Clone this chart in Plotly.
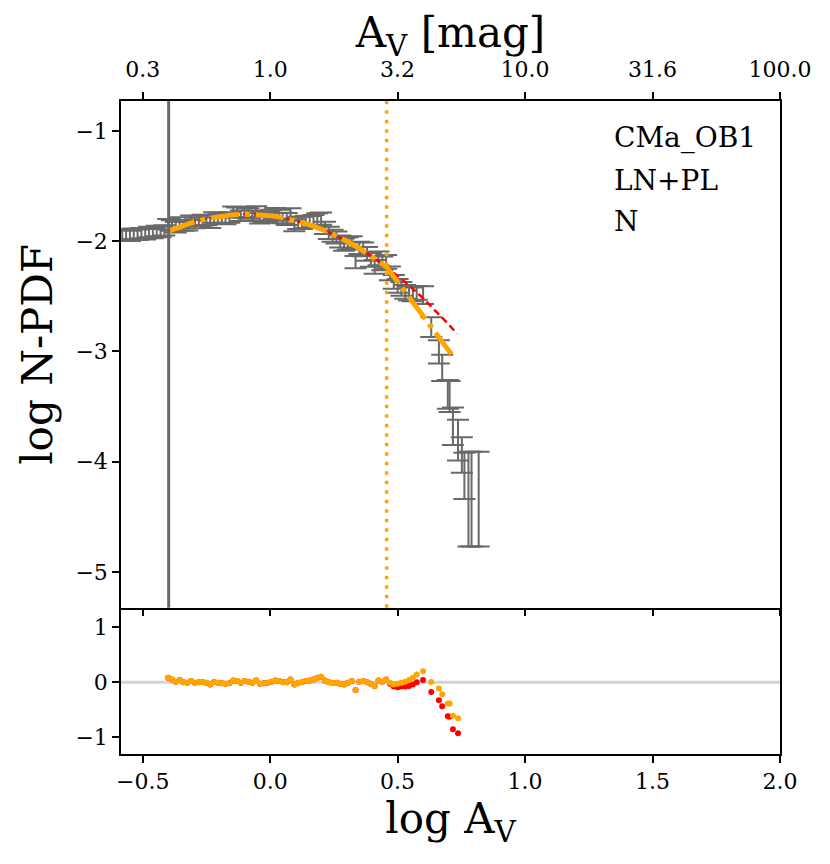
import plotly.graph_objects as go

# ---------------- data ----------------
log_av = [-0.580, -0.565, -0.550, -0.535, -0.520, -0.505, -0.490, -0.475, -0.460, -0.445, -0.430, -0.415,
          -0.400, -0.385, -0.370, -0.355, -0.340, -0.325, -0.310, -0.295, -0.280, -0.265,
          -0.250, -0.235, -0.220, -0.205, -0.190, -0.175, -0.160, -0.145, -0.130, -0.115,
          -0.100, -0.085, -0.070, -0.055, -0.040, -0.025, -0.010, 0.005, 0.020, 0.035,
          0.050, 0.065, 0.080, 0.095, 0.110, 0.125, 0.140, 0.155, 0.170, 0.185,
          0.200, 0.215, 0.230, 0.245, 0.260, 0.275, 0.290, 0.305, 0.320, 0.335,
          0.350, 0.365, 0.380, 0.395, 0.410, 0.425, 0.440, 0.455, 0.470, 0.485,
          0.500, 0.515, 0.530, 0.545, 0.560, 0.575, 0.600, 0.632, 0.662, 0.675,
          0.697, 0.704, 0.717, 0.737, 0.752, 0.762, 0.778, 0.790, 0.818]

log_npdf = [-1.945, -1.935, -1.950, -1.930, -1.940, -1.925, -1.935, -1.915, -1.925, -1.905, -1.915, -1.900,
            -1.845, -1.855, -1.871, -1.828, -1.856, -1.854, -1.813, -1.833, -1.814, -1.805,
            -1.807, -1.830, -1.783, -1.787, -1.792, -1.798, -1.784, -1.731, -1.739, -1.767,
            -1.736, -1.746, -1.767, -1.728, -1.790, -1.783, -1.776, -1.760, -1.745, -1.761,
            -1.787, -1.794, -1.752, -1.851, -1.830, -1.830, -1.821, -1.822, -1.814, -1.797,
            -1.791, -1.875, -1.920, -1.946, -1.962, -1.999, -2.027, -2.016, -2.005, -2.185,
            -2.056, -2.067, -2.109, -2.162, -2.226, -2.150, -2.195, -2.181, -2.285, -2.362,
            -2.399, -2.425, -2.452, -2.469, -2.476, -2.462, -2.480, -2.770, -2.990, -3.130,
            -3.370, -3.390, -3.650, -3.770, -3.900, -4.060, -4.210, -4.210, -4.210]

err_up = [0.045, 0.045, 0.045, 0.045, 0.045, 0.045, 0.045, 0.045, 0.045, 0.045, 0.045, 0.045,
          0.045, 0.045, 0.045, 0.045, 0.045, 0.045, 0.045, 0.045, 0.045, 0.045,
          0.045, 0.045, 0.045, 0.045, 0.045, 0.045, 0.045, 0.045, 0.045, 0.045,
          0.045, 0.045, 0.045, 0.045, 0.045, 0.045, 0.045, 0.045, 0.045, 0.045,
          0.045, 0.050, 0.050, 0.050, 0.050, 0.050, 0.050, 0.050, 0.050, 0.050,
          0.050, 0.050, 0.050, 0.050, 0.050, 0.050, 0.050, 0.050, 0.050, 0.050,
          0.050, 0.055, 0.055, 0.055, 0.055, 0.055, 0.055, 0.055, 0.055, 0.055,
          0.055, 0.055, 0.055, 0.055, 0.055, 0.055, 0.070, 0.080, 0.090, 0.100,
          0.110, 0.120, 0.140, 0.150, 0.120, 0.140, 0.300, 0.300, 0.300]

err_dn = [0.050, 0.050, 0.050, 0.050, 0.050, 0.050, 0.050, 0.050, 0.050, 0.050, 0.050, 0.050,
          0.050, 0.050, 0.050, 0.050, 0.050, 0.050, 0.050, 0.050, 0.050, 0.050,
          0.050, 0.050, 0.050, 0.050, 0.050, 0.050, 0.050, 0.050, 0.050, 0.050,
          0.050, 0.050, 0.050, 0.050, 0.050, 0.050, 0.050, 0.050, 0.050, 0.050,
          0.050, 0.060, 0.060, 0.060, 0.060, 0.060, 0.060, 0.060, 0.060, 0.060,
          0.060, 0.060, 0.060, 0.060, 0.060, 0.060, 0.060, 0.060, 0.060, 0.060,
          0.060, 0.070, 0.070, 0.070, 0.070, 0.070, 0.070, 0.070, 0.070, 0.070,
          0.070, 0.070, 0.070, 0.070, 0.070, 0.070, 0.090, 0.100, 0.120, 0.140,
          0.150, 0.160, 0.200, 0.220, 0.200, 0.280, 0.560, 0.560, 0.560]

# residuals (data - model) for the fitted bins (log_av from -0.400 to 0.737)
res_x = [-0.400, -0.385, -0.370, -0.355, -0.340, -0.325, -0.310, -0.295, -0.280, -0.265,
         -0.250, -0.235, -0.220, -0.205, -0.190, -0.175, -0.160, -0.145, -0.130, -0.115,
         -0.100, -0.085, -0.070, -0.055, -0.040, -0.025, -0.010, 0.005, 0.020, 0.035,
         0.050, 0.065, 0.080, 0.095, 0.110, 0.125, 0.140, 0.155, 0.170, 0.185,
         0.200, 0.215, 0.230, 0.245, 0.260, 0.275, 0.290, 0.305, 0.320, 0.335,
         0.350, 0.365, 0.380, 0.395, 0.410, 0.425, 0.440, 0.455, 0.470, 0.485,
         0.500, 0.515, 0.530, 0.545, 0.560, 0.575, 0.600, 0.632, 0.662, 0.675,
         0.697, 0.704, 0.717, 0.737]

res_lnpl = [0.08, 0.05, 0.01, 0.04, 0.00, -0.01, 0.02, -0.01, 0.00, 0.00,
            -0.01, -0.04, 0.00, -0.01, -0.02, -0.03, -0.02, 0.03, 0.02, -0.01,
            0.02, 0.01, -0.01, 0.03, -0.03, -0.02, -0.01, 0.01, 0.03, 0.02,
            0.00, 0.00, 0.05, -0.04, -0.01, 0.00, 0.02, 0.03, 0.05, 0.08,
            0.10, 0.03, 0.00, -0.01, -0.01, -0.03, -0.04, -0.01, 0.02, -0.14,
            0.01, 0.02, 0.00, -0.03, -0.07, 0.03, 0.01, 0.05, -0.01, -0.04,
            -0.03, -0.01, 0.01, 0.04, 0.08, 0.14, 0.20, 0.005, -0.115, -0.22,
            -0.39, -0.39, -0.61, -0.66]

res_ln = [0.08, 0.05, 0.01, 0.04, 0.00, -0.01, 0.02, -0.01, 0.00, 0.00,
          -0.01, -0.04, 0.00, -0.01, -0.02, -0.03, -0.02, 0.03, 0.02, -0.01,
          0.02, 0.01, -0.01, 0.03, -0.03, -0.02, -0.01, 0.01, 0.03, 0.02,
          0.00, 0.00, 0.05, -0.04, -0.01, 0.00, 0.02, 0.03, 0.05, 0.08,
          0.10, 0.03, 0.00, -0.01, -0.01, -0.03, -0.04, -0.01, 0.02, -0.14,
          0.01, 0.02, 0.00, -0.03, -0.07, 0.03, 0.01, 0.05, -0.03, -0.08,
          -0.09, -0.08, -0.08, -0.07, -0.04, 0.00, 0.04, -0.18, -0.33, -0.44,
          -0.62, -0.63, -0.86, -0.93]

# log-normal fit (red, dashed)
ln_x = [-0.400, -0.350, -0.300, -0.250, -0.200, -0.150, -0.100, -0.050, 0.000, 0.050,
        0.100, 0.150, 0.200, 0.250, 0.300, 0.350, 0.400, 0.457, 0.500, 0.550,
        0.600, 0.650, 0.700, 0.733]
ln_y = [-1.910, -1.864, -1.827, -1.797, -1.775, -1.762, -1.756, -1.759, -1.769, -1.787,
        -1.814, -1.848, -1.891, -1.941, -1.999, -2.066, -2.140, -2.235, -2.313, -2.411,
        -2.518, -2.632, -2.755, -2.840]

# log-normal + power-law fit (orange, dash-dot)
lnpl_x = [-0.400, -0.350, -0.300, -0.250, -0.200, -0.150, -0.100, -0.050, 0.000, 0.050,
          0.100, 0.150, 0.200, 0.250, 0.300, 0.350, 0.400, 0.457, 0.711]
lnpl_y = [-1.910, -1.864, -1.827, -1.797, -1.775, -1.762, -1.756, -1.759, -1.769, -1.787,
          -1.814, -1.848, -1.891, -1.941, -1.999, -2.066, -2.140, -2.235, -3.025]

av_limit_log = -0.398      # completeness limit (grey line)
av_transition_log = 0.457  # LN -> PL transition (orange dotted line)

bottom_ticks = [-0.5, 0.0, 0.5, 1.0, 1.5, 2.0]
top_tick_text = ["0.3", "1.0", "3.2", "10.0", "31.6", "100.0"]
main_yticks = [-5, -4, -3, -2, -1]
res_yticks = [-1, 0, 1]
info_lines = ["CMa_OB1", "LN+PL", "N"]

# ---------------- figure ----------------
FONT = "DejaVu Serif"
XR = [-0.585, 2.0]
split = (754 - 607) / 656.0
TICK = 22
TITLE = 42

fig = go.Figure()

fig.add_trace(go.Scatter(
    x=log_av, y=log_npdf, mode="markers",
    marker=dict(color="rgba(0,0,0,0)", size=1),
    error_y=dict(type="data", symmetric=False, array=err_up, arrayminus=err_dn,
                 color="dimgray", thickness=2, width=11),
    xaxis="x", yaxis="y", showlegend=False, hoverinfo="skip"))

fig.add_trace(go.Scatter(
    x=ln_x, y=ln_y, mode="lines", line=dict(color="red", width=2.5, dash="7px,4px"),
    xaxis="x", yaxis="y", showlegend=False))

fig.add_trace(go.Scatter(
    x=lnpl_x, y=lnpl_y, mode="lines",
    line=dict(color="orange", width=5, dash="28px,6px,5px,6px"),
    xaxis="x", yaxis="y", showlegend=False))

fig.add_trace(go.Scatter(x=[None], y=[None], xaxis="x3", yaxis="y", showlegend=False))

fig.add_trace(go.Scatter(
    x=res_x, y=res_ln, mode="markers", marker=dict(color="red", size=6),
    xaxis="x2", yaxis="y2", showlegend=False))
fig.add_trace(go.Scatter(
    x=res_x, y=res_lnpl, mode="markers", marker=dict(color="orange", size=6),
    xaxis="x2", yaxis="y2", showlegend=False))

fig.add_shape(type="line", xref="x", yref="y domain", x0=av_limit_log, x1=av_limit_log,
              y0=0, y1=1, line=dict(color="dimgray", width=3))
fig.add_shape(type="line", xref="x", yref="y domain", x0=av_transition_log, x1=av_transition_log,
              y0=0, y1=1, line=dict(color="orange", width=3.5, dash="3.5px,6px"))
fig.add_shape(type="line", xref="x2 domain", yref="y2", x0=0, x1=1, y0=0, y1=0,
              line=dict(color="lightgray", width=3), layer="below")

info_y = [0.927, 0.844, 0.763]
for txt, yy in zip(info_lines, info_y):
    fig.add_annotation(text=txt, xref="x domain", yref="y domain", x=0.745, y=yy,
                       xanchor="left", yanchor="middle", showarrow=False,
                       font=dict(family=FONT, size=28, color="black"))

axis_common = dict(showgrid=False, zeroline=False, showline=True, linecolor="black",
                   linewidth=1.5, ticks="outside", ticklen=7, tickwidth=1.5, tickcolor="black",
                   tickfont=dict(family=FONT, size=TICK, color="black"))

fig.update_layout(
    width=822, height=856,
    margin=dict(l=113, r=50, t=90, b=110),
    paper_bgcolor="white", plot_bgcolor="white",
    font=dict(family=FONT, color="black"),
    xaxis=dict(domain=[0, 1], anchor="y", range=XR, tickvals=bottom_ticks,
               showticklabels=False, mirror=True, **axis_common),
    xaxis3=dict(overlaying="x", side="top", anchor="y", range=XR, tickvals=bottom_ticks,
                ticktext=top_tick_text, ticklabelstandoff=6,
                title=dict(text="A<sub>V</sub> [mag]", font=dict(family=FONT, size=TITLE), standoff=8),
                **axis_common),
    yaxis=dict(domain=[split, 1], anchor="x", range=[-5.325, -0.729], tickvals=main_yticks,
               mirror=True,
               title=dict(text="log N-PDF", font=dict(family=FONT, size=TITLE), standoff=10),
               **axis_common),
    xaxis2=dict(domain=[0, 1], anchor="y2", range=XR, tickvals=bottom_ticks, tickformat=".1f",
                mirror=False,
                title=dict(text="log A<sub>V</sub>", font=dict(family=FONT, size=TITLE), standoff=4),
                **axis_common),
    yaxis2=dict(domain=[0, split], anchor="x2", range=[-1.31, 1.36], tickvals=res_yticks,
                mirror=True, **axis_common),
)

fig.write_html("out.html")
